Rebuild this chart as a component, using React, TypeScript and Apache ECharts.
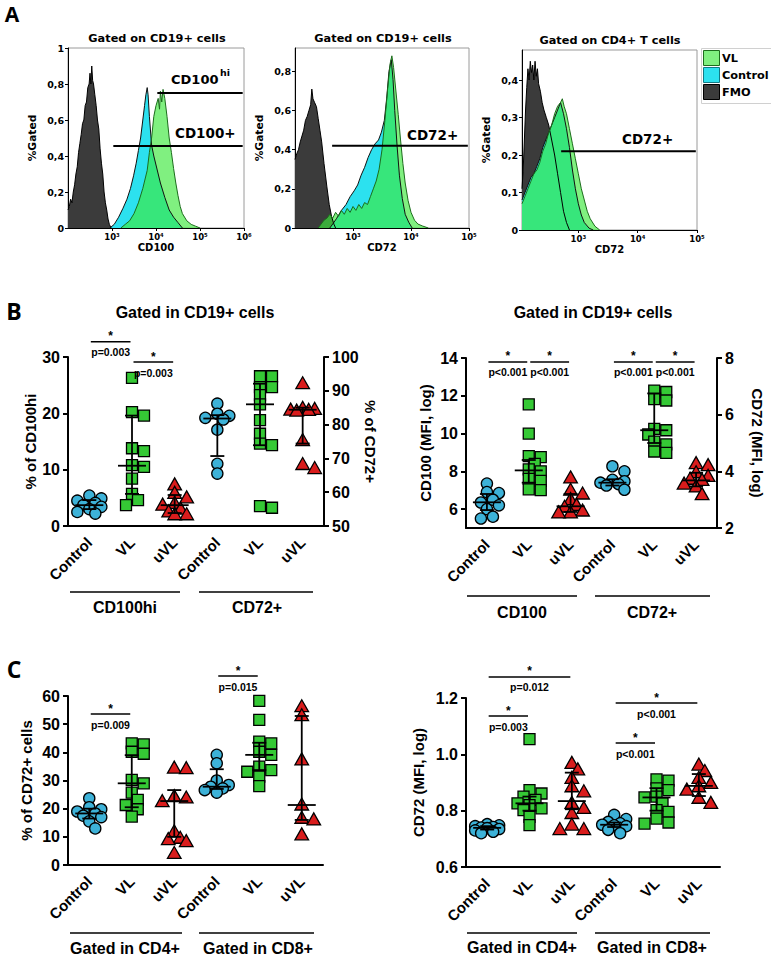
import React, { useEffect, useRef } from 'react';
import * as echarts from 'echarts';

const ARIAL = '"Liberation Sans", Arial, sans-serif';
const VERD = '"DejaVu Sans", Verdana, sans-serif';
const LETTER = '"Open Sans", "Liberation Sans", sans-serif';

// ---------------- Panel A: histograms, points are [log10(intensity), fraction gated]
const h1FMO = [[2.0,0.10],[2.03,0.12],[2.06,0.16],[2.09,0.14],[2.12,0.2],[2.15,0.24],[2.18,0.3],[2.21,0.34],[2.24,0.42],[2.27,0.47],[2.3,0.52],[2.33,0.58],[2.36,0.6],[2.39,0.68],[2.42,0.7],[2.45,0.78],[2.48,0.8],[2.5,0.86],[2.52,0.8],[2.54,0.9],[2.56,0.82],[2.58,0.8],[2.61,0.74],[2.64,0.68],[2.67,0.6],[2.7,0.55],[2.73,0.44],[2.76,0.36],[2.79,0.3],[2.82,0.2],[2.85,0.14],[2.88,0.1],[2.91,0.05],[2.94,0.02],[2.98,0]];
const h1Control = [[2.95,0],[3.05,0.02],[3.15,0.06],[3.25,0.11],[3.34,0.16],[3.42,0.22],[3.49,0.29],[3.55,0.36],[3.6,0.43],[3.65,0.5],[3.7,0.6],[3.74,0.68],[3.77,0.74],[3.8,0.78],[3.82,0.74],[3.85,0.62],[3.9,0.46],[3.95,0.4],[4.0,0.35],[4.1,0.25],[4.2,0.17],[4.3,0.1],[4.4,0.06],[4.5,0.03],[4.6,0]];
const h1VL = [[3.2,0],[3.3,0.02],[3.4,0.04],[3.5,0.08],[3.6,0.14],[3.7,0.22],[3.8,0.32],[3.85,0.42],[3.9,0.5],[3.95,0.62],[4.0,0.68],[4.05,0.72],[4.08,0.66],[4.1,0.76],[4.13,0.7],[4.16,0.77],[4.2,0.72],[4.25,0.62],[4.3,0.5],[4.35,0.42],[4.4,0.33],[4.45,0.25],[4.5,0.18],[4.55,0.12],[4.6,0.08],[4.7,0.04],[4.8,0.02],[4.9,0.01],[5.0,0]];
const h2FMO = [[2.0,0.35],[2.03,0.38],[2.06,0.4],[2.09,0.44],[2.12,0.47],[2.15,0.5],[2.18,0.55],[2.21,0.57],[2.24,0.6],[2.27,0.63],[2.29,0.71],[2.31,0.66],[2.34,0.64],[2.37,0.62],[2.4,0.56],[2.43,0.5],[2.46,0.44],[2.5,0.33],[2.55,0.21],[2.59,0.12],[2.63,0.06],[2.67,0.02],[2.7,0]];
const h2Control = [[2.6,0],[2.65,0.02],[2.72,0.05],[2.8,0.09],[2.88,0.12],[2.95,0.16],[3.02,0.19],[3.08,0.22],[3.14,0.27],[3.2,0.31],[3.26,0.36],[3.32,0.4],[3.38,0.43],[3.44,0.45],[3.49,0.49],[3.54,0.55],[3.58,0.66],[3.62,0.8],[3.66,0.86],[3.69,0.76],[3.72,0.6],[3.76,0.42],[3.8,0.27],[3.85,0.15],[3.9,0.07],[3.96,0.03],[4.02,0]];
const h2VL = [[2.4,0],[2.45,0.02],[2.5,0.04],[2.55,0.05],[2.6,0.07],[2.65,0.05],[2.7,0.08],[2.75,0.06],[2.8,0.09],[2.85,0.07],[2.9,0.1],[2.95,0.08],[3.0,0.11],[3.05,0.09],[3.1,0.12],[3.15,0.1],[3.2,0.13],[3.25,0.12],[3.3,0.16],[3.35,0.2],[3.4,0.24],[3.45,0.3],[3.5,0.4],[3.55,0.55],[3.6,0.72],[3.64,0.84],[3.67,0.88],[3.7,0.82],[3.74,0.7],[3.78,0.58],[3.82,0.45],[3.86,0.33],[3.9,0.23],[3.95,0.14],[4.0,0.08],[4.06,0.04],[4.12,0.02],[4.2,0.01],[4.3,0]];
const h3FMO = [[2.05,0.11],[2.07,0.16],[2.09,0.24],[2.11,0.32],[2.13,0.38],[2.15,0.43],[2.17,0.4],[2.19,0.45],[2.21,0.42],[2.23,0.44],[2.25,0.4],[2.27,0.45],[2.29,0.41],[2.31,0.43],[2.33,0.39],[2.36,0.37],[2.39,0.34],[2.42,0.32],[2.46,0.3],[2.5,0.28],[2.55,0.24],[2.6,0.2],[2.65,0.15],[2.7,0.1],[2.75,0.05],[2.8,0.02],[2.85,0]];
const h3Control = [[2.05,0.08],[2.1,0.1],[2.15,0.12],[2.2,0.14],[2.25,0.15],[2.3,0.17],[2.35,0.19],[2.4,0.22],[2.45,0.24],[2.5,0.26],[2.55,0.28],[2.6,0.3],[2.65,0.32],[2.7,0.34],[2.75,0.31],[2.8,0.27],[2.85,0.22],[2.9,0.16],[2.95,0.11],[3.0,0.07],[3.05,0.04],[3.1,0.02],[3.18,0.005],[3.25,0]];
const h3VL = [[2.05,0.07],[2.1,0.09],[2.15,0.11],[2.2,0.13],[2.25,0.15],[2.3,0.16],[2.35,0.18],[2.4,0.21],[2.45,0.23],[2.5,0.26],[2.55,0.28],[2.6,0.31],[2.65,0.33],[2.7,0.34],[2.73,0.35],[2.76,0.33],[2.8,0.31],[2.85,0.27],[2.9,0.23],[2.95,0.19],[3.0,0.15],[3.05,0.11],[3.1,0.08],[3.15,0.05],[3.2,0.03],[3.28,0.01],[3.36,0]];
// gates: [from log10, to log10, level]
const h1Gates = [[4.03, 5.97, 0.75], [3.03, 5.97, 0.455]];
const h2Gates = [[2.64, 4.98, 0.42]];
const h3Gates = [[2.71, 4.98, 0.21]];
const histLegend = ['VL', 'Control', 'FMO'];

// ---------------- Panels B and C
const groupCats = ['Control', 'VL', 'uVL', 'Control', 'VL', 'uVL'];

// B left: % CD100hi (left axis) and % CD72+ (right axis)
const bL_cd100hi_Control = [5.4, 4.9, 4.5, 4.1, 3.7, 3.4, 3.0, 2.5, 2.2];
const bL_cd100hi_VL = [26.3, 20.2, 19.6, 13.8, 13.3, 10.8, 10.5, 8.4, 5.7, 4.6, 3.7];
const bL_cd100hi_uVL = [7.3, 5.8, 5.0, 4.0, 3.7, 3.0, 2.5, 2.0, 2.0];
const bL_cd72_Control = [86.2, 83.2, 82.6, 82.0, 81.5, 78.5, 68.4, 65.5];
const bL_cd72_VL = [94.3, 94.3, 91.1, 91.1, 88.7, 86.0, 81.3, 77.3, 74.4, 73.9, 55.9, 55.4];
const bL_cd72_uVL = [92.1, 84.8, 84.5, 84.3, 84.2, 84.0, 75.3, 68.2, 67.0];
// [median, q1, q3]
const bL_stats_cd100hi = [[3.7, 3.0, 4.6], [10.7, 5.7, 19.6], [3.7, 2.3, 5.5]];
const bL_stats_cd72 = [[81.8, 70.7, 82.8], [86.0, 73.9, 92.1], [84.4, 74.4, 85.0]];
const bL_sig = [[0, 1, 32.7], [1, 2, 29.1]];
const bL_sigLabels = ['p=0.003', 'p=0.003'];

// B right: CD100 MFI (left axis), CD72 MFI (right axis)
const bR_cd100_Control = [7.35, 6.9, 6.85, 6.5, 6.35, 6.2, 6.0, 5.6, 5.5];
const bR_cd100_VL = [11.55, 10.0, 8.8, 8.75, 8.4, 8.1, 8.0, 7.6, 7.5, 7.05, 7.0];
const bR_cd100_uVL = [7.65, 7.0, 6.8, 6.5, 6.2, 6.1, 5.9, 5.8, 5.8];
const bR_cd72_Control = [4.18, 4.0, 3.7, 3.65, 3.6, 3.55, 3.5, 3.35];
const bR_cd72_VL = [6.85, 6.8, 6.55, 6.5, 5.5, 5.45, 5.3, 5.05, 4.95, 4.7, 4.65];
const bR_cd72_uVL = [4.27, 4.2, 3.95, 3.82, 3.72, 3.68, 3.55, 3.45, 3.18];
const bR_stats_cd100 = [[6.36, 5.95, 6.8], [8.05, 7.4, 8.6], [6.15, 5.85, 6.8]];
const bR_stats_cd72 = [[3.6, 3.5, 3.72], [5.45, 5.0, 6.75], [3.68, 3.47, 3.95]];
const bR_sigCD100 = [[0, 1, 13.79], [1, 2, 13.79]];
const bR_sigCD72 = [[3, 4, 7.86], [4, 5, 7.86]];
const bR_sigLabels = ['p<0.001', 'p<0.001'];

// C left: % CD72+ cells
const cL_cd4_Control = [23.7, 20.5, 19.8, 19.0, 18.3, 17.5, 17.0, 15.5, 13.0];
const cL_cd4_VL = [43.2, 42.8, 40.2, 39.5, 30.2, 29.0, 25.7, 23.1, 21.3, 19.8, 17.2];
const cL_cd4_uVL = [34.4, 34.2, 24.3, 23.8, 22.5, 11.8, 9.5, 9.0, 8.3, 4.1];
const cL_cd8_Control = [39.1, 36.1, 30.0, 28.4, 27.8, 27.2, 26.6, 25.7];
const cL_cd8_VL = [58.3, 51.5, 43.8, 43.2, 40.2, 39.1, 34.9, 33.7, 33.1, 31.4, 28.0];
const cL_cd8_uVL = [56.2, 53.0, 37.3, 21.3, 16.6, 16.0, 10.7];
const cL_stats = [[18.3, 16.5, 20.0], [29.0, 20.5, 39.0], [22.7, 10.0, 26.6], [27.8, 27.0, 34.0], [39.1, 33.7, 43.4], [21.3, 16.0, 52.9]];
const cL_sig = [[0, 1, 53.6], [3, 4, 67.1]];
const cL_sigLabels = ['p=0.009', 'p=0.015'];

// C right: CD72 MFI
const cR_cd4_Control = [0.752, 0.748, 0.745, 0.742, 0.740, 0.738, 0.735, 0.730, 0.725, 0.720];
const cR_cd4_VL = [1.054, 0.873, 0.861, 0.850, 0.838, 0.826, 0.820, 0.808, 0.802, 0.778, 0.749];
const cR_cd4_uVL = [0.968, 0.945, 0.915, 0.885, 0.867, 0.826, 0.808, 0.790, 0.749, 0.733, 0.733];
const cR_cd8_Control = [0.785, 0.770, 0.760, 0.755, 0.750, 0.748, 0.745, 0.732, 0.720];
const cR_cd8_VL = [0.911, 0.907, 0.879, 0.873, 0.850, 0.847, 0.826, 0.802, 0.796, 0.772, 0.758, 0.754];
const cR_cd8_uVL = [0.962, 0.939, 0.915, 0.897, 0.885, 0.873, 0.844, 0.826];
const cR_stats = [[0.739, 0.733, 0.745], [0.826, 0.800, 0.850], [0.834, 0.805, 0.935], [0.750, 0.742, 0.758], [0.847, 0.800, 0.880], [0.888, 0.852, 0.930]];
const cR_sig = [[0, 1, 1.136], [0, 2, 1.275], [3, 4, 1.040], [3, 5, 1.182]];
const cR_sigLabels = ['p=0.003', 'p=0.012', 'p<0.001', 'p<0.001'];

// ---------------- helpers
type Shape = 'circle' | 'square' | 'triangle';
const SHAPES: Shape[] = ['circle', 'square', 'triangle', 'circle', 'square', 'triangle'];
const FILL: Record<Shape, string> = { circle: '#3db2d8', square: '#35c935', triangle: '#d91c1c' };

// horizontal spread of overlapping markers (pixel offsets), limited to +-12 px
function swarm(values: number[], ppu: number): number[] {
  const placed: { x: number; y: number }[] = [];
  const res = new Array(values.length).fill(0);
  const order = values.map((_, i) => i).sort((a, b) => values[b] - values[a]);
  const cands = [0, 6, -6, 12, -12];
  for (const i of order) {
    const y = values[i] * ppu;
    let best = 0, bestD = -1;
    for (const dx of cands) {
      const d = placed.length ? Math.min(...placed.map((p) => Math.hypot(p.x - dx, p.y - y))) : 99;
      if (d >= 8) { best = dx; bestD = d; break; }
      if (d > bestD) { bestD = d; best = dx; }
    }
    placed.push({ x: best, y });
    res[i] = best;
  }
  return res;
}

function pointSeries(xi: number, yi: number, cat: number, values: number[], ppu: number) {
  const shape = SHAPES[cat];
  const offs = swarm(values, ppu);
  return {
    type: 'custom', xAxisIndex: xi, yAxisIndex: yi, silent: true, clip: false, z: 2,
    encode: { x: 0, y: 1 },
    data: values.map((v, i) => [cat, v, offs[i]]),
    renderItem: (_p: any, api: any) => {
      const c = api.coord([api.value(0), api.value(1)]);
      const x = c[0] + Number(api.value(2));
      const y = c[1];
      const style = { fill: FILL[shape], stroke: '#000', lineWidth: 1.3 };
      if (shape === 'circle') return { type: 'circle', shape: { cx: x, cy: y, r: 5.6 }, style };
      if (shape === 'square') return { type: 'rect', shape: { x: x - 5.5, y: y - 5.5, width: 11, height: 11 }, style };
      return { type: 'polygon', shape: { points: [[x, y - 7], [x + 6.8, y + 5], [x - 6.8, y + 5]] }, style };
    },
  };
}

function statSeries(xi: number, yi: number, stats: number[][], cats: number[]) {
  return {
    type: 'custom', xAxisIndex: xi, yAxisIndex: yi, silent: true, clip: false, z: 3,
    encode: { x: 0, y: [1, 2, 3] },
    data: stats.map((s, i) => [cats[i], s[0], s[1], s[2]]),
    renderItem: (_p: any, api: any) => {
      const cat = api.value(0);
      const m = api.coord([cat, api.value(1)]);
      const a = api.coord([cat, api.value(2)]);
      const b = api.coord([cat, api.value(3)]);
      const x = m[0];
      const ls = { stroke: '#000', lineWidth: 1.8 };
      return {
        type: 'group',
        children: [
          { type: 'line', shape: { x1: x, y1: a[1], x2: x, y2: b[1] }, style: ls },
          { type: 'line', shape: { x1: x - 7, y1: a[1], x2: x + 7, y2: a[1] }, style: ls },
          { type: 'line', shape: { x1: x - 7, y1: b[1], x2: x + 7, y2: b[1] }, style: ls },
          { type: 'line', shape: { x1: x - 14, y1: m[1], x2: x + 14, y2: m[1] }, style: ls },
        ],
      };
    },
  };
}

function sigSeries(xi: number, yi: number, bars: number[][], labels: string[]) {
  return {
    type: 'custom', xAxisIndex: xi, yAxisIndex: yi, silent: true, clip: false, z: 4,
    encode: { x: [0, 1], y: 2 },
    data: bars,
    renderItem: (p: any, api: any) => {
      const a = api.coord([api.value(0), api.value(2)]);
      const b = api.coord([api.value(1), api.value(2)]);
      const x1 = a[0] + 1.5, x2 = b[0] - 1.5, y = a[1], mx = (x1 + x2) / 2;
      const ts = { fill: '#000', fontFamily: ARIAL, fontWeight: 'bold', align: 'center', verticalAlign: 'middle' };
      return {
        type: 'group',
        children: [
          { type: 'line', shape: { x1, y1: y, x2, y2: y }, style: { stroke: '#000', lineWidth: 1.5 } },
          { type: 'text', x: mx, y: y - 5.5, style: { ...ts, text: '*', fontSize: 12 } },
          { type: 'text', x: mx, y: y + 10.5, style: { ...ts, text: labels[p.dataIndex], fontSize: 10.5 } },
        ],
      };
    },
  };
}

function histSeries(xi: number, yi: number, fmo: number[][], ctrl: number[][], vl: number[][], gates: number[][]) {
  const base = { type: 'line', xAxisIndex: xi, yAxisIndex: yi, showSymbol: false, symbol: 'none', silent: true, smooth: false };
  const out: any[] = [
    { ...base, name: 'FMO', data: fmo, lineStyle: { color: '#000', width: 1 }, areaStyle: { color: '#3b3b3b', opacity: 1 }, z: 2 },
    { ...base, name: 'Control', data: ctrl, lineStyle: { color: '#111', width: 1 }, areaStyle: { color: '#2ce1ef', opacity: 1 }, z: 2 },
    { ...base, name: 'VL', data: vl, lineStyle: { color: '#1c6c1c', width: 1 }, areaStyle: { color: 'rgb(61,232,61)', opacity: 0.655 }, z: 2 },
  ];
  gates.forEach((g) => {
    out.push({ ...base, name: 'gate', data: [[g[0], g[2]], [g[1], g[2]]], lineStyle: { color: '#000', width: 2 }, z: 5 });
  });
  return out;
}

const SUP: Record<number, string> = { 2: '²', 3: '³', 4: '⁴', 5: '⁵', 6: '⁶' };

function histXAxis(gridIndex: number, min: number, max: number, ticks: number[], name: string) {
  return {
    type: 'value', gridIndex, min, max,
    name, nameLocation: 'middle', nameGap: 14,
    nameTextStyle: { fontFamily: VERD, fontWeight: 'bold', fontSize: 10, color: '#000' },
    axisLine: { lineStyle: { color: '#000', width: 1 } },
    axisTick: { customValues: ticks, length: 3, lineStyle: { color: '#000' } },
    axisLabel: { customValues: ticks, formatter: (v: number) => '10' + (SUP[Math.round(v)] || ''), fontFamily: VERD, fontWeight: 'bold', fontSize: 8.5, color: '#000', margin: 4 },
    splitLine: { show: false },
  };
}
function histYAxis(gridIndex: number, max: number, ticks: number[]) {
  return {
    type: 'value', gridIndex, min: 0, max,
    name: '%Gated', nameLocation: 'middle', nameGap: 30,
    nameTextStyle: { fontFamily: VERD, fontWeight: 'bold', fontSize: 10.7, color: '#000' },
    axisLine: { lineStyle: { color: '#000', width: 1 } },
    axisTick: { customValues: ticks, length: 3, lineStyle: { color: '#000' } },
    axisLabel: {
      customValues: ticks,
      formatter: (v: number) => (v === 0 ? '0' : v === 1 ? '1' : v.toFixed(1).replace('.', ',')),
      fontFamily: VERD, fontWeight: 'bold', fontSize: 9.5, color: '#000', margin: 4,
    },
    splitLine: { show: false },
  };
}

function catAxis(gridIndex: number) {
  return {
    type: 'category', gridIndex, data: groupCats, boundaryGap: true,
    axisLine: { lineStyle: { color: '#000', width: 2 } },
    axisTick: { alignWithLabel: true, length: 5, lineStyle: { color: '#000', width: 2 } },
    axisLabel: { interval: 0, rotate: 45, margin: 14, color: '#000', fontFamily: ARIAL, fontWeight: 'bold', fontSize: 15 },
    splitLine: { show: false },
  };
}
function valAxis(gridIndex: number, min: number, max: number, ticks: number[], position: string, name: string, nameGap: number, fmt?: (v: number) => string) {
  return {
    type: 'value', gridIndex, min, max, position,
    name, nameLocation: 'middle', nameGap, nameRotate: position === 'right' ? -90 : 90,
    nameTextStyle: { fontFamily: ARIAL, fontWeight: 'bold', fontSize: 15, color: '#000' },
    axisLine: { show: true, lineStyle: { color: '#000', width: 2 } },
    axisTick: { show: true, customValues: ticks, length: 5, lineStyle: { color: '#000', width: 2 } },
    axisLabel: { customValues: ticks, formatter: fmt, margin: 8, color: '#000', fontFamily: ARIAL, fontWeight: 'bold', fontSize: 16 },
    splitLine: { show: false },
  };
}

function txt(text: string, x: number, y: number, size: number, family = ARIAL, align = 'center', weight: any = 'bold') {
  return { type: 'text', x, y, silent: true, style: { text, fill: '#000', fontSize: size, fontFamily: family, fontWeight: weight, align, verticalAlign: 'middle' } };
}
function hline(x1: number, x2: number, y: number, w = 1.5) {
  return { type: 'line', silent: true, shape: { x1, y1: y, x2, y2: y }, style: { stroke: '#000', lineWidth: w } };
}

function buildOption() {
  const grids = [
    { left: 68, top: 48, width: 176, height: 180 },
    { left: 295, top: 48, width: 174, height: 180 },
    { left: 522, top: 50, width: 175, height: 180 },
    { left: 68, top: 357, width: 256, height: 169 },
    { left: 466, top: 358, width: 251, height: 170 },
    { left: 68, top: 696, width: 255, height: 169 },
    { left: 466, top: 698, width: 254, height: 169 },
  ].map((g, i) => ({ ...g, containLabel: false, show: i < 3, borderColor: '#9a9a9a', borderWidth: 1, backgroundColor: 'transparent' }));

  const xAxis = [
    histXAxis(0, 2, 6, [3, 4, 5, 6], 'CD100'),
    histXAxis(1, 2, 5, [3, 4, 5], 'CD72'),
    histXAxis(2, 2.05, 5, [3, 4, 5], 'CD72'),
    catAxis(3), catAxis(4), catAxis(5), catAxis(6),
  ];
  const yAxis = [
    histYAxis(0, 1, [0, 0.2, 0.4, 0.6, 0.8, 1]),
    histYAxis(1, 0.92, [0, 0.2, 0.4, 0.6, 0.8]),
    histYAxis(2, 0.48, [0, 0.1, 0.2, 0.3, 0.4]),
    valAxis(3, 0, 30, [0, 10, 20, 30], 'left', '% of CD100hi', 30),
    valAxis(3, 50, 100, [50, 60, 70, 80, 90, 100], 'right', '% of CD72+', 36),
    valAxis(4, 5, 14, [6, 8, 10, 12, 14], 'left', 'CD100 (MFI, log)', 33),
    valAxis(4, 2, 8, [2, 4, 6, 8], 'right', 'CD72 (MFI, log)', 33),
    valAxis(5, 0, 60, [0, 10, 20, 30, 40, 50, 60], 'left', '% of CD72+ cells', 34),
    valAxis(6, 0.6, 1.2, [0.6, 0.8, 1.0, 1.2], 'left', 'CD72 (MFI, log)', 40, (v: number) => v.toFixed(1)),
  ];
  const ppu = (gi: number, min: number, max: number) => grids[gi].height / (max - min);

  const series: any[] = [
    ...histSeries(0, 0, h1FMO, h1Control, h1VL, h1Gates),
    ...histSeries(1, 1, h2FMO, h2Control, h2VL, h2Gates),
    ...histSeries(2, 2, h3FMO, h3Control, h3VL, h3Gates),
  ];
  // B left
  const pBL1 = ppu(3, 0, 30), pBL2 = ppu(3, 50, 100);
  [bL_cd100hi_Control, bL_cd100hi_VL, bL_cd100hi_uVL].forEach((v, i) => series.push(pointSeries(3, 3, i, v, pBL1)));
  [bL_cd72_Control, bL_cd72_VL, bL_cd72_uVL].forEach((v, i) => series.push(pointSeries(3, 4, i + 3, v, pBL2)));
  series.push(statSeries(3, 3, bL_stats_cd100hi, [0, 1, 2]), statSeries(3, 4, bL_stats_cd72, [3, 4, 5]));
  series.push(sigSeries(3, 3, bL_sig, bL_sigLabels));
  // B right
  const pBR1 = ppu(4, 5, 14), pBR2 = ppu(4, 2, 8);
  [bR_cd100_Control, bR_cd100_VL, bR_cd100_uVL].forEach((v, i) => series.push(pointSeries(4, 5, i, v, pBR1)));
  [bR_cd72_Control, bR_cd72_VL, bR_cd72_uVL].forEach((v, i) => series.push(pointSeries(4, 6, i + 3, v, pBR2)));
  series.push(statSeries(4, 5, bR_stats_cd100, [0, 1, 2]), statSeries(4, 6, bR_stats_cd72, [3, 4, 5]));
  series.push(sigSeries(4, 5, bR_sigCD100, bR_sigLabels), sigSeries(4, 6, bR_sigCD72, bR_sigLabels));
  // C left
  const pCL = ppu(5, 0, 60);
  [cL_cd4_Control, cL_cd4_VL, cL_cd4_uVL, cL_cd8_Control, cL_cd8_VL, cL_cd8_uVL].forEach((v, i) => series.push(pointSeries(5, 7, i, v, pCL)));
  series.push(statSeries(5, 7, cL_stats, [0, 1, 2, 3, 4, 5]), sigSeries(5, 7, cL_sig, cL_sigLabels));
  // C right
  const pCR = ppu(6, 0.6, 1.2);
  [cR_cd4_Control, cR_cd4_VL, cR_cd4_uVL, cR_cd8_Control, cR_cd8_VL, cR_cd8_uVL].forEach((v, i) => series.push(pointSeries(6, 8, i, v, pCR)));
  series.push(statSeries(6, 8, cR_stats, [0, 1, 2, 3, 4, 5]), sigSeries(6, 8, cR_sig, cR_sigLabels));

  const legendColors = [
    { fill: 'rgb(128,240,128)', stroke: '#1c6c1c' },
    { fill: '#2ce1ef', stroke: '#117a85' },
    { fill: '#3b3b3b', stroke: '#000' },
  ];
  const graphic: any[] = [
    txt('A', 12, 14, 21, LETTER),
    txt('B', 14, 311, 23, LETTER),
    txt('C', 14, 669, 23, LETTER),
    txt('Gated on CD19+ cells', 157, 38, 11.3, VERD),
    txt('Gated on CD19+ cells', 383, 38, 11.3, VERD),
    txt('Gated on CD4+ T cells', 610, 40, 11.3, VERD),
    txt('CD100', 171, 79, 13, VERD, 'left'),
    txt('hi', 220, 72, 9.5, VERD, 'left'),
    txt('CD100+', 175, 133, 13.5, VERD, 'left'),
    txt('CD72+', 407, 135, 13.5, VERD, 'left'),
    txt('CD72+', 622, 139, 13.5, VERD, 'left'),
    { type: 'rect', silent: true, shape: { x: 701.5, y: 48.5, width: 75, height: 55 }, style: { fill: 'none', stroke: '#d0d0d0', lineWidth: 1 } },
    ...histLegend.flatMap((name, i) => [
      { type: 'rect', silent: true, shape: { x: 703.5, y: 50.5 + i * 17, width: 16, height: 15 }, style: { fill: legendColors[i].fill, stroke: legendColors[i].stroke, lineWidth: 1 } },
      txt(name, 722, 58.5 + i * 17, 11.3, VERD, 'left'),
    ]),
    txt('Gated in CD19+ cells', 195, 312, 16),
    txt('Gated in CD19+ cells', 593, 312, 16),
    hline(70, 180, 592), hline(199, 313, 592),
    txt('CD100hi', 125, 607, 16), txt('CD72+', 257, 607, 16),
    hline(467, 577, 596), hline(595, 710, 596),
    txt('CD100', 522, 612, 16), txt('CD72+', 652, 612, 16),
    hline(70, 182, 933), hline(199, 314, 933),
    txt('Gated in CD4+', 125, 948, 16), txt('Gated in CD8+', 258, 948, 16),
    hline(467, 577, 933), hline(595, 710, 933),
    txt('Gated in CD4+', 522, 947, 16), txt('Gated in CD8+', 652, 947, 16),
  ];

  return { animation: false, backgroundColor: '#fff', grid: grids, xAxis, yAxis, series, graphic };
}

export default function App() {
  const ref = useRef<HTMLDivElement>(null);
  useEffect(() => {
    document.body.style.margin = '0';
    const chart = echarts.init(ref.current!, null, { renderer: 'svg' });
    chart.setOption(buildOption() as any);
    return () => chart.dispose();
  }, []);
  return <div ref={ref} style={{ width: 771, height: 955, background: '#fff' }} />;
}
